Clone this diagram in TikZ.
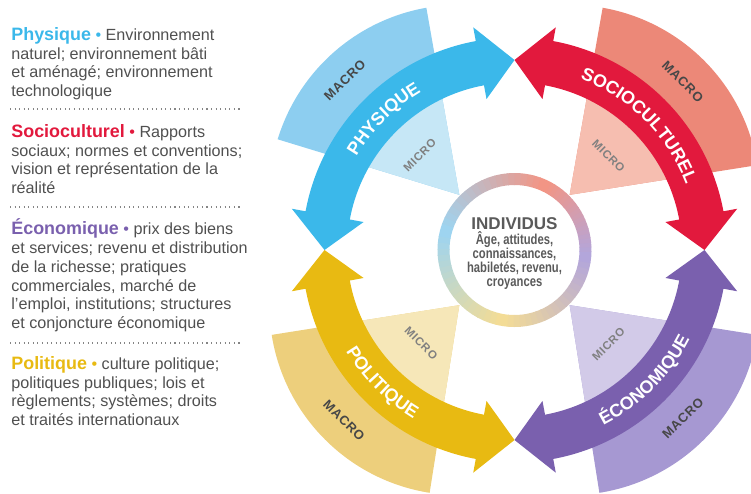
\documentclass[tikz,border=0pt]{standalone}
\usepackage{fontspec}
\setmainfont{Liberation Sans}
\newfontfamily\narrowfont[FakeStretch=0.78]{Liberation Sans}
\newfontfamily\spacedfont[LetterSpace=6]{Liberation Sans}
\usepackage{tikz}
\usetikzlibrary{decorations.text,positioning}

\definecolor{phyArrow}{HTML}{3BB8EA}
\definecolor{phyMacro}{HTML}{8DCEF0}
\definecolor{phyMicro}{HTML}{C6E7F6}
\definecolor{socArrow}{HTML}{E2193D}
\definecolor{socMacro}{HTML}{EC8878}
\definecolor{socMicro}{HTML}{F6BEB0}
\definecolor{ecoArrow}{HTML}{7A60AE}
\definecolor{ecoMacro}{HTML}{A698D2}
\definecolor{ecoMicro}{HTML}{D2CAE8}
\definecolor{polArrow}{HTML}{E8BA12}
\definecolor{polMacro}{HTML}{EDCF7C}
\definecolor{polMicro}{HTML}{F6E7B8}
\definecolor{ringRed}{HTML}{F29585}
\definecolor{ringBlue}{HTML}{9ED4F0}
\definecolor{ringYellow}{HTML}{F3DC96}
\definecolor{ringPurple}{HTML}{B3A6DB}
\definecolor{legendgray}{HTML}{505050}
\definecolor{indgray}{HTML}{5A5A5A}

% arrow sizes
\def\Rm{3.8}   % mid radius
\def\Ro{4.25}  \def\Ri{3.35}  % shaft
\def\Rh{4.53}  \def\Rk{3.07}  % head
\def\hd{10.5}  % head length (deg)

% double arrow along the circle, from angle #1 to #2
\newcommand{\twowayarrow}[3]{%
  \fill[#3] ({#1+\hd}:\Ro) arc[start angle={#1+\hd}, end angle={#2-\hd}, radius=\Ro]
    -- ({#2-\hd}:\Rh) -- (#2:\Rm) -- ({#2-\hd}:\Rk) -- ({#2-\hd}:\Ri)
    arc[start angle={#2-\hd}, end angle={#1+\hd}, radius=\Ri]
    -- ({#1+\hd}:\Rk) -- (#1:\Rm) -- ({#1+\hd}:\Rh) -- cycle;}

% macro / micro wedge
\newcommand{\wedgepart}[5]{%
  \fill[#4] (#1:1.56) -- ++(#2:3.8) arc[start angle=#2, end angle=#3, radius=3.8] -- cycle;
  \fill[#5] (#1:1.56) -- ++(#2:2.4) arc[start angle=#2, end angle=#3, radius=2.4] -- cycle;}

\tikzset{
  legend/.style={anchor=base west, inner sep=0, align=left, text=legendgray,
    font=\fontsize{9.2}{10.65}\selectfont},
  macro/.style={font=\spacedfont\bfseries\fontsize{7.4}{8}\selectfont, text=black!72},
  micro/.style={font=\spacedfont\bfseries\fontsize{6.5}{7}\selectfont, text=black!50},
  sep/.style={legendgray!70, dotted, line width=0.6pt},
  archtext/.style={decorate, decoration={text along path, text align=center,
    text color=white, text={|\bfseries\fontsize{10.2}{12}\selectfont|#1}}}
}

\begin{document}
\begin{tikzpicture}
    \useasboundingbox (0,0) rectangle (15.02,9.86);

    % Legend (anchored on the last line)
    \node[legend] (phy) at (0.22,7.93) {{\bfseries\fontsize{10.2}{10.65}\selectfont\color{phyArrow}Physique} {\color{phyArrow}•} Environnement\\naturel; environnement bâti\\et aménagé; environnement\\technologique};
    \draw[sep] (0.2,7.68) -- (4.84,7.68);
    \node[legend] (soc) at (0.22,5.99) {{\bfseries\fontsize{10.2}{10.65}\selectfont\color{socArrow}Socioculturel} {\color{socArrow}•} Rapports\\sociaux; normes et conventions;\\vision et représentation de la\\réalité};
    \draw[sep] (0.2,5.72) -- (4.84,5.72);
    \node[legend] (eco) at (0.22,3.29) {{\bfseries\fontsize{10.2}{10.65}\selectfont\color{ecoArrow}Économique} {\color{ecoArrow}•} prix des biens\\et services; revenu et distribution\\de la richesse; pratiques\\commerciales, marché de\\l’emploi, institutions; structures\\et conjoncture économique};
    \draw[sep] (0.2,3.0) -- (4.84,3.0);
    \node[legend] (pol) at (0.22,1.35) {{\bfseries\fontsize{10.2}{10.65}\selectfont\color{polArrow}Politique} {\color{polArrow}•} culture politique;\\politiques publiques; lois et\\règlements; systèmes; droits\\et traités internationaux};

    \begin{scope}[shift={(10.29,4.86)}]
    % Wedges
    \wedgepart{135}{100}{163}{phyMacro}{phyMicro}
    \wedgepart{45}{9}{80}{socMacro}{socMicro}
    \wedgepart{225}{189}{261}{polMacro}{polMicro}
    \wedgepart{315}{279}{351}{ecoMacro}{ecoMicro}

    % Ring
    \foreach \a/\b/\cA/\cB in {65/165/ringRed/ringBlue, 165/260/ringBlue/ringYellow,
        260/355/ringYellow/ringPurple, 355/425/ringPurple/ringRed}{
      \foreach \i in {0,...,19}{
        \pgfmathsetmacro{\angS}{\a+(\b-\a)*\i/20}
        \pgfmathsetmacro{\angE}{\a+(\b-\a)*(\i+1)/20+0.5}
        \pgfmathsetmacro{\p}{100*\i/19}
        \colorlet{ringc}{\cB!\p!\cA}
        \fill[ringc] (\angS:1.54) arc[start angle=\angS, end angle=\angE, radius=1.54]
          -- (\angE:1.3) arc[start angle=\angE, end angle=\angS, radius=1.3] -- cycle;
      }}

    % Arrows
    \twowayarrow{90}{180}{phyArrow}
    \twowayarrow{0}{90}{socArrow}
    \twowayarrow{180}{270}{polArrow}
    \twowayarrow{270}{360}{ecoArrow}

    % Arrow labels
    \path[archtext=PHYSIQUE] (180:3.67) arc[start angle=180, end angle=90, radius=3.67];
    \path[archtext=SOCIOCULTUREL] (90:3.67) arc[start angle=90, end angle=0, radius=3.67];
    \path[archtext=POLITIQUE] (180:3.93) arc[start angle=180, end angle=270, radius=3.93];
    \path[archtext=ÉCONOMIQUE] (270:3.93) arc[start angle=270, end angle=360, radius=3.93];

    % Macro / micro labels
    \node[macro, rotate=45] (phymacro) at (135:4.8) {MACRO};
    \node[micro, rotate=45] (phymicro) at (135:2.68) {MICRO};
    \node[macro, rotate=-45] (socmacro) at (45:4.76) {MACRO};
    \node[micro, rotate=-45] (socmicro) at (45:2.66) {MICRO};
    \node[macro, rotate=-45] (polmacro) at (225:4.82) {MACRO};
    \node[micro, rotate=-45] (polmicro) at (225:2.64) {MICRO};
    \node[macro, rotate=45] (ecomacro) at (315:4.76) {MACRO};
    \node[micro, rotate=45] (ecomicro) at (315:2.66) {MICRO};

    % Centre
    \node[font=\bfseries\fontsize{9.7}{10}\selectfont, text=indgray] (ind) at (0,0.52) {INDIVIDUS};
    \node[font=\narrowfont\bfseries\fontsize{8.2}{7.8}\selectfont, align=center, text=indgray] (details) at (0,-0.21) {Âge, attitudes,\\connaissances,\\habiletés, revenu,\\croyances};
    \end{scope}

\end{tikzpicture}
\end{document}
